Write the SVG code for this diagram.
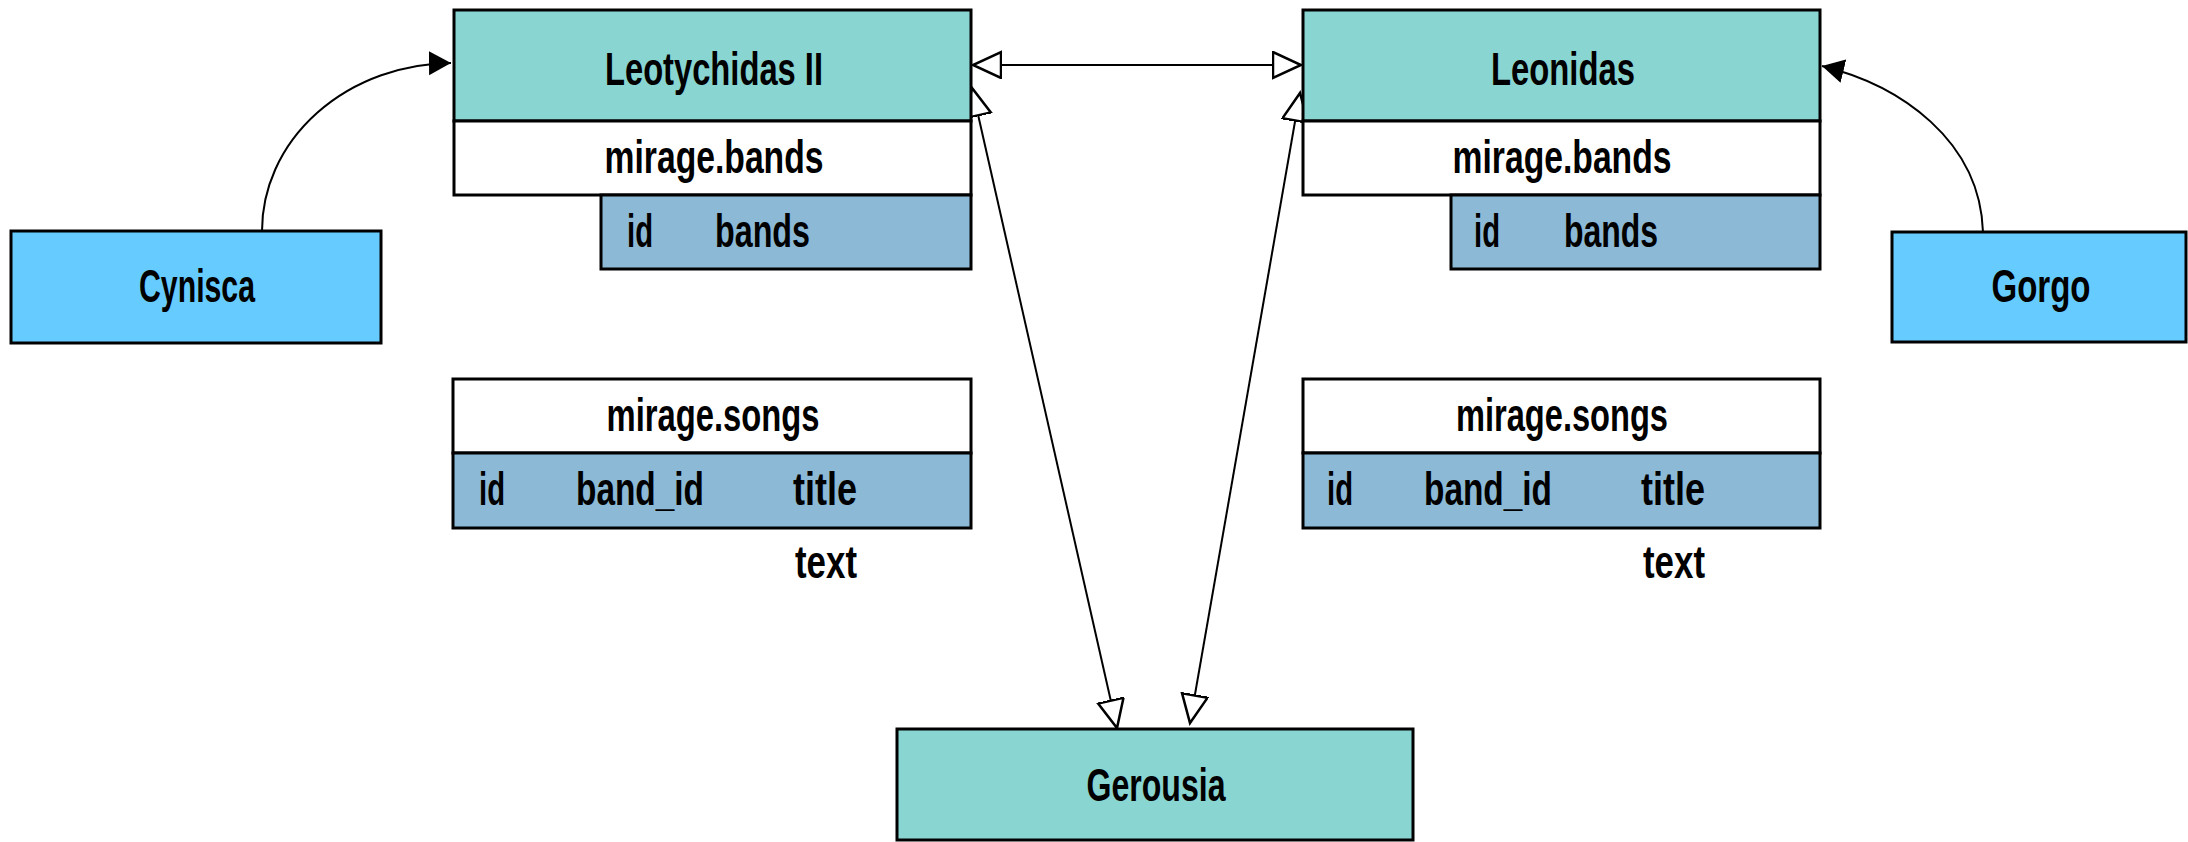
<svg xmlns="http://www.w3.org/2000/svg" width="2188" height="842" viewBox="0 0 2188 842">
<style>
.box{stroke:#000;stroke-width:3}
.hdr{fill:#88d5d2}
.nm{fill:#ffffff}
.col{fill:#8bb9d6}
.ext{fill:#66ccff}
text{font-family:"Liberation Sans Narrow","Liberation Sans",Arial,sans-serif;font-weight:bold;font-size:46px;fill:#000}
.c{text-anchor:middle}
.edge{fill:none;stroke:#000;stroke-width:2}
</style>
<defs>
<marker id="open" markerUnits="userSpaceOnUse" markerWidth="32" markerHeight="30" refX="29" refY="14" orient="auto-start-reverse" viewBox="0 0 32 30">
<path d="M1,1 L29,14 L1,27 Z" fill="#fff" stroke="#000" stroke-width="2.5"/>
</marker>
<marker id="solid" markerUnits="userSpaceOnUse" markerWidth="24" markerHeight="26" refX="22" refY="12" orient="auto" viewBox="0 0 24 26">
<path d="M0,0 L22,12 L0,24 Z" fill="#000"/>
</marker>
</defs>
<g id="connectors">
<path class="edge" d="M262,231 A191,168 0 0 1 451,63" marker-end="url(#solid)"/>
<path class="edge" d="M1983,232 C1980,140 1900,85 1822,66" marker-end="url(#solid)"/>
<path class="edge" d="M973,65 L1301,65" marker-start="url(#open)" marker-end="url(#open)"/>
<path class="edge" d="M972,88 L1117,728" marker-start="url(#open)" marker-end="url(#open)"/>
<path class="edge" d="M1300,93 L1190,723" marker-start="url(#open)" marker-end="url(#open)"/>
</g>
<g id="node-leotychidas">
<rect class="box hdr" x="454" y="10" width="517" height="111"/>
<text class="c" x="714" y="85" textLength="218" lengthAdjust="spacingAndGlyphs">Leotychidas II</text>
<g id="leo-bands">
<rect class="box nm" x="454" y="121" width="517" height="74"/>
<text class="c" x="714" y="173" textLength="219" lengthAdjust="spacingAndGlyphs">mirage.bands</text>
<rect class="box col" x="601" y="195" width="370" height="74"/>
<text x="627" y="247" textLength="26" lengthAdjust="spacingAndGlyphs">id</text>
<text x="715" y="247" textLength="95" lengthAdjust="spacingAndGlyphs">bands</text>
</g>
<g id="leo-songs">
<rect class="box nm" x="453" y="379" width="518" height="74"/>
<text class="c" x="713" y="431" textLength="213" lengthAdjust="spacingAndGlyphs">mirage.songs</text>
<rect class="box col" x="453" y="453" width="518" height="75"/>
<text x="479" y="505" textLength="26" lengthAdjust="spacingAndGlyphs">id</text>
<text x="576" y="505" textLength="128" lengthAdjust="spacingAndGlyphs">band_id</text>
<text x="793" y="505" textLength="64" lengthAdjust="spacingAndGlyphs">title</text>
<text x="795" y="578" textLength="62" lengthAdjust="spacingAndGlyphs">text</text>
</g>
</g>
<g id="node-leonidas">
<rect class="box hdr" x="1303" y="10" width="517" height="111"/>
<text class="c" x="1563" y="85" textLength="144" lengthAdjust="spacingAndGlyphs">Leonidas</text>
<g id="leon-bands">
<rect class="box nm" x="1303" y="121" width="517" height="74"/>
<text class="c" x="1562" y="173" textLength="219" lengthAdjust="spacingAndGlyphs">mirage.bands</text>
<rect class="box col" x="1451" y="195" width="369" height="74"/>
<text x="1474" y="247" textLength="26" lengthAdjust="spacingAndGlyphs">id</text>
<text x="1564" y="247" textLength="94" lengthAdjust="spacingAndGlyphs">bands</text>
</g>
<g id="leon-songs">
<rect class="box nm" x="1303" y="379" width="517" height="74"/>
<text class="c" x="1562" y="431" textLength="212" lengthAdjust="spacingAndGlyphs">mirage.songs</text>
<rect class="box col" x="1303" y="453" width="517" height="75"/>
<text x="1327" y="505" textLength="26" lengthAdjust="spacingAndGlyphs">id</text>
<text x="1424" y="505" textLength="128" lengthAdjust="spacingAndGlyphs">band_id</text>
<text x="1641" y="505" textLength="64" lengthAdjust="spacingAndGlyphs">title</text>
<text x="1643" y="578" textLength="62" lengthAdjust="spacingAndGlyphs">text</text>
</g>
</g>
<g id="node-cynisca">
<rect class="box ext" x="11" y="231" width="370" height="112"/>
<text class="c" x="197" y="302" textLength="116" lengthAdjust="spacingAndGlyphs">Cynisca</text>
</g>
<g id="node-gorgo">
<rect class="box ext" x="1892" y="232" width="294" height="110"/>
<text class="c" x="2041" y="302" textLength="99" lengthAdjust="spacingAndGlyphs">Gorgo</text>
</g>
<g id="node-gerousia">
<rect class="box hdr" x="897" y="729" width="516" height="111"/>
<text class="c" x="1156" y="801" textLength="139" lengthAdjust="spacingAndGlyphs">Gerousia</text>
</g>
</svg>
